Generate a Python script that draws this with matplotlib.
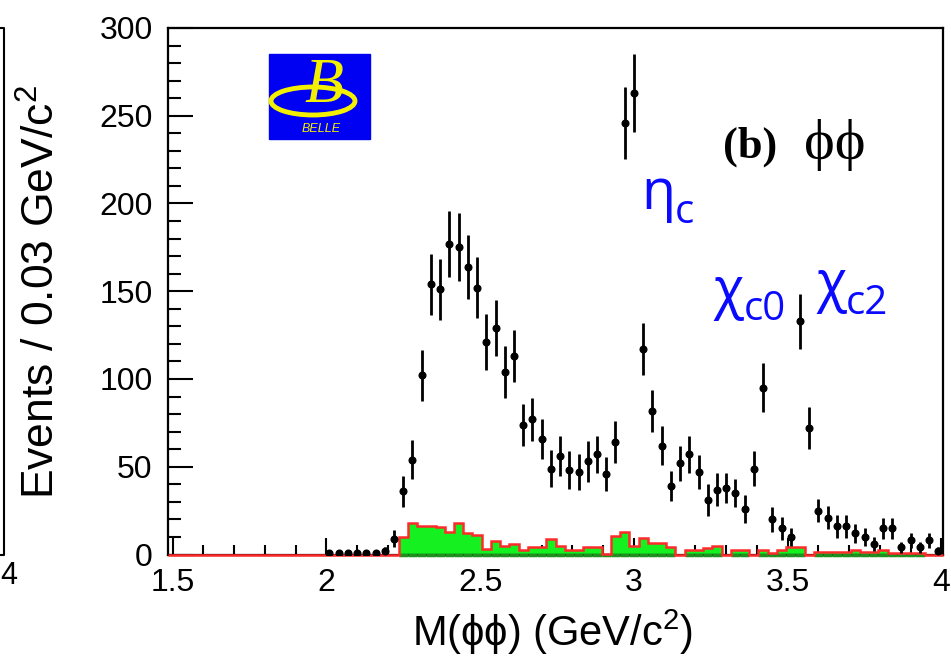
import numpy as np
import matplotlib
matplotlib.use('Agg')
from matplotlib import pyplot as plt
from matplotlib.ticker import MultipleLocator
from matplotlib.patches import Rectangle, Ellipse
from matplotlib.lines import Line2D

plt.rcParams['font.family'] = ['Liberation Sans', 'DejaVu Sans']
plt.rcParams['mathtext.fontset'] = 'custom'
plt.rcParams['mathtext.rm'] = 'Liberation Sans'
plt.rcParams['mathtext.it'] = 'Liberation Sans:italic'
plt.rcParams['mathtext.bf'] = 'Liberation Sans:bold'

# phi-phi mass spectrum, 0.03 GeV bins, data from 2.01 to 3.99 GeV
mass = np.round(np.arange(2.01, 4.0, 0.03), 2)
events = [1, 1, 1, 1, 1, 1, 2, 9,
          36, 54, 102, 154, 151, 177, 175, 164, 152, 121, 129, 104, 113, 74, 77, 66,
          49, 56, 48, 47, 53, 57, 46, 64, 246, 263,
          117, 82, 62, 39, 52, 57, 47, 31, 37, 38, 35, 26, 49, 95, 20, 15, 10, 133, 72,
          25, 21, 16, 16, 12, 10, 6, 15, 15, 4, 8, 4, 8, 2]
errors = [1.5, 1.5, 1.5, 1.5, 1.5, 1.5, 2, 5,
          9, 11, 14.5, 17.5, 17.3, 18.8, 19.4, 18.2, 17.4, 16.1, 16.1, 14.7, 14.7, 12, 12.3, 11.4,
          10.6, 11.4, 10.9, 10.1, 11.7, 10.6, 9.8, 11.9, 20.6, 22,
          15, 12, 11, 8.5, 10.1, 10.6, 9.8, 9.2, 9.2, 8.5, 7.8, 7.9, 10, 14, 7.1, 6.5, 5.2, 15.7, 12,
          6.7, 6.6, 6.5, 6.5, 5.5, 5, 4, 6, 6, 3, 4.5, 3, 4.5, 2.5]

# sideband background histogram, bins centred 2.25 ... 3.99 GeV
bkg = [10, 18, 16, 16, 15.5, 13, 18, 12, 11, 3,
       7.5, 4.7, 6, 2.7, 4, 4, 9, 5, 2.3, 2.3,
       4.2, 4.2, 0.5, 10.4, 13, 4.7, 9.3, 6.5, 6.5, 4.2,
       0, 2.3, 2.3, 3.8, 5, 0, 2.3, 2.3, 0, 2.8,
       0.8, 2.3, 4.2, 4.2, 0, 1.3, 1.3, 1.3, 1.3, 2.3,
       1.3, 1.3, 2.3, 1, 1, 1, 1, 0, 0]

edges = np.round(1.485 + 0.03 * np.arange(85), 3)
hist = np.concatenate([np.zeros(84 - len(bkg)), bkg])

W, H = 951, 665
fig = plt.figure(figsize=(W / 100, H / 100), dpi=100)
ax = fig.add_axes([168 / W, 1 - 554.5 / H, 775 / W, 526.5 / H])

ax.stairs(hist, edges, fill=True, color='#14f020', zorder=2)
lo = edges[:-1][hist > 0]
hi = edges[1:][hist > 0]
ax.hlines(np.zeros(len(lo)), lo, hi, color='#1f8f1f', lw=2.5, zorder=3, clip_on=False)
ax.stairs(hist, edges, color='#ff2a2a', lw=1.8, zorder=3.5, clip_on=False)

ax.errorbar(mass, events, yerr=errors, fmt='o', ms=4.8, color='black',
            elinewidth=2.0, capsize=0, zorder=5)

ax.set_xlim(1.485, 4.005)
ax.set_ylim(0, 300)
ax.set_xticks([1.5, 2, 2.5, 3, 3.5, 4])
ax.set_xticklabels(['1.5', '2', '2.5', '3', '3.5', '4'])
ax.xaxis.set_minor_locator(MultipleLocator(0.1))
ax.yaxis.set_major_locator(MultipleLocator(50))
ax.yaxis.set_minor_locator(MultipleLocator(10))
ax.tick_params(which='both', direction='in', top=False, right=False,
               width=1.5, labelsize=23, colors='black')
ax.tick_params(axis='x', which='major', length=12.5, pad=10)
ax.tick_params(axis='x', which='minor', length=7)
ax.tick_params(axis='y', which='major', length=18, pad=11)
ax.tick_params(axis='y', which='minor', length=9.5)
for s in ax.spines.values():
    s.set_linewidth(1.6)

fig.text(42 / W, 1 - 292 / H, 'Events / 0.03 GeV/c$^2$', rotation=90,
         ha='center', va='center', fontsize=32)
fig.text(553 / W, 1 - 632 / H, 'M(\u03d5\u03d5) (GeV/c$^2$)',
         ha='center', va='center', fontsize=30)

# panel label
fig.text(723 / W, 1 - 158 / H, '(b)', ha='left', va='baseline', fontsize=32,
         fontweight='bold', family=['Liberation Serif', 'DejaVu Serif'])
fig.text(804 / W, 1 - 159 / H, '\u03d5\u03d5', ha='left', va='baseline', fontsize=42,
         family=['Liberation Serif', 'DejaVu Serif'])

# resonance names
blue = '#0a0aff'
names = [('\u03b7', 'c', 641, 209, 223), ('\u03c7', 'c0', 713, 307, 320), ('\u03c7', 'c2', 816, 300, 314)]
for greek, sub, px, base, subbase in names:
    t = fig.text(px / W, 1 - base / H, greek, ha='left', va='baseline', fontsize=40,
                 color=blue, family=['Open Sans', 'DejaVu Sans'])
    fig.canvas.draw()
    bb = t.get_window_extent()
    fig.text(bb.x1 / W, 1 - subbase / H, sub, ha='left', va='baseline', fontsize=29,
             color=blue, family=['Open Sans', 'DejaVu Sans'])

# experiment logo
fig.patches.append(Rectangle((269 / W, 1 - 139 / H), 101 / W, 85 / H,
                             transform=fig.transFigure, color='#0000f2', zorder=1))
fig.patches.append(Ellipse((313 / W, 1 - 101 / H), 84 / W, 28 / H, transform=fig.transFigure,
                           fill=False, edgecolor='#f2f000', lw=3.5, zorder=2))
fig.text(324 / W, 1 - 87 / H, 'B', ha='center', va='center', fontsize=46, style='italic',
         color='#f2f000', family=['Liberation Serif'], zorder=3)
fig.text(321 / W, 1 - 129 / H, 'BELLE', ha='center', va='center', fontsize=9,
         style='italic', color='#f2f000', zorder=3)

# edge of the neighbouring panel
fig.lines.append(Line2D([0, 4 / W, 4 / W, 0], [1 - 28 / H, 1 - 28 / H, 1 - 555 / H, 1 - 555 / H],
                        transform=fig.transFigure, color='black', lw=1.5))
fig.text(0, 1 - 576 / H, '4', ha='left', va='center', fontsize=22)

fig.savefig('out.png', dpi=100)
